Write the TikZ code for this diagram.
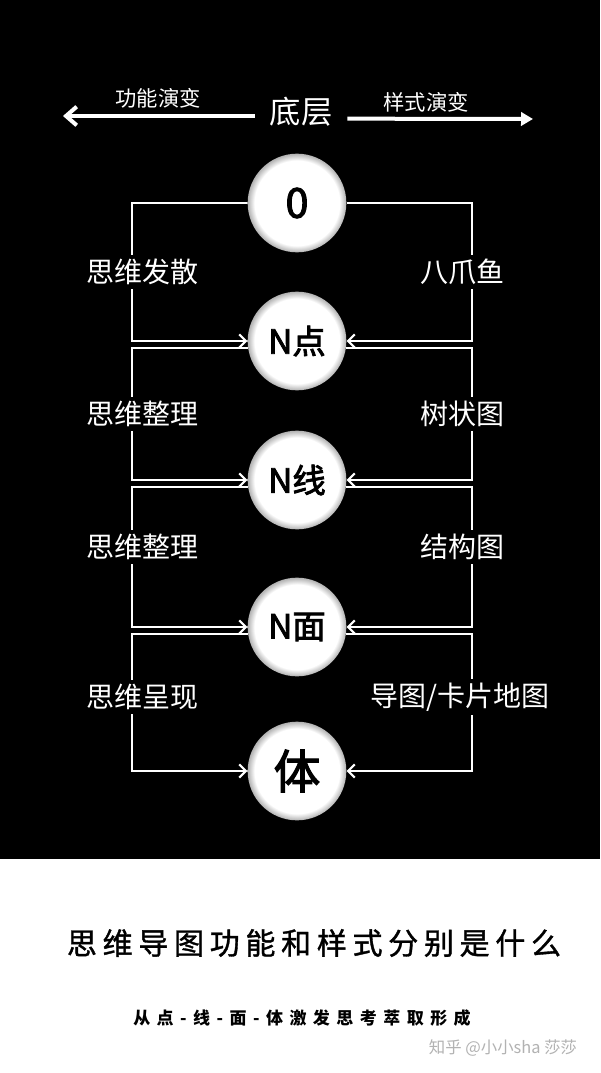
\documentclass[tikz,border=0pt]{standalone}
\usepackage{fontspec}
\setmainfont{Noto Sans CJK SC}
\newfontfamily\stagefont[FakeBold=2.5]{Noto Sans CJK SC}
\newfontfamily\titlefont[FakeBold=1.2]{Noto Sans CJK SC}
\usetikzlibrary{arrows.meta,calc}
\pgfdeclareradialshading{ballshade}{\pgfpoint{0bp}{0bp}}{color(0bp)=(white); color(21.5bp)=(white); color(25bp)=(black!30); color(50bp)=(black!30)}
\tikzstyle{stage}=[circle,minimum size=74pt,inner sep=0pt,shading=ballshade,text=black,font=\stagefont\fontsize{25}{25}\selectfont]
\tikzstyle{flow}=[draw=white,line width=1.6pt,-{Straight Barb[length=5pt,width=10pt]}]
\tikzstyle{lab}=[fill=black,text=white,inner sep=3pt,font=\fontsize{21}{21}\selectfont]
\tikzstyle{bigarrow}=[draw=white,line width=3pt]

\begin{document}
\begin{tikzpicture}[x=0.75pt,y=-0.75pt]

      \useasboundingbox (0,0) rectangle (600,1073);
      \fill[black] (0,0) rectangle (600,859);
      \fill[white] (0,859) rectangle (600,1073);

      \coordinate (L) at (132,0);
      \coordinate (R) at (472,0);

      \node (base) at (301,112) [text=white,inner xsep=11pt,font=\fontsize{23.5}{23.5}\selectfont] {底层};
      \node (fun) at (158,98) [text=white,font=\fontsize{16}{16}\selectfont] {功能演变};
      \node (sty) at (426,102) [text=white,font=\fontsize{16}{16}\selectfont] {样式演变};
      \coordinate (tipL) at (63,116);
      \coordinate (tipR) at (533,119);
      \draw[bigarrow,-{Straight Barb[length=8pt,width=14pt]}] ([yshift=-3pt]base.west) -- (tipL);
      \draw[bigarrow,-{Triangle[length=9pt,width=10pt]}] ([yshift=-5pt]base.east) -- (tipR);

      \node (n0) at (297,203) [stage,font=\stagefont\fontsize{31}{31}\selectfont] {0};
      \node (np) at (297,341) [stage] {N点};
      \node (nl) at (297,480) [stage] {N线};
      \node (nf) at (297,627) [stage] {N面};
      \node (nt) at (297,771) [stage,font=\stagefont\fontsize{35}{35}\selectfont] {体};

      % left side: function
      \draw[flow] (n0.west) -- (n0.west -| L) -- node[lab,xshift=8pt] {思维发散} (np.west -| L) -- (np.west);
      \draw[flow] (np.188) -- (np.188 -| L) -- node[lab,xshift=8pt] {思维整理} (nl.west -| L) -- (nl.west);
      \draw[flow] (nl.188) -- (nl.188 -| L) -- node[lab,xshift=8pt,pos=.43] {思维整理} (nf.west -| L) -- (nf.west);
      \draw[flow] (nf.188) -- (nf.188 -| L) -- node[lab,xshift=8pt,pos=.46] {思维呈现} (nt.west -| L) -- (nt.west);

      % right side: style
      \draw[flow] (n0.east) -- (n0.east -| R) -- node[lab,xshift=-7.5pt] {八爪鱼} (np.east -| R) -- (np.east);
      \draw[flow] (np.-8) -- (np.-8 -| R) -- node[lab,xshift=-7.5pt] {树状图} (nl.east -| R) -- (nl.east);
      \draw[flow] (nl.-8) -- (nl.-8 -| R) -- node[lab,xshift=-7.5pt,pos=.43] {结构图} (nf.east -| R) -- (nf.east);
      \draw[flow] (nf.-8) -- (nf.-8 -| R) -- node[lab,xshift=-9pt,pos=.46] {导图/卡片地图} (nt.east -| R) -- (nt.east);

      \node (title) at (314,943) [font=\titlefont\fontsize{22.5}{22.5}\selectfont\addfontfeatures{LetterSpace=19}] {思维导图功能和样式分别是什么};
      \node (sub) at (302,1018) [font=\bfseries\fontsize{12.75}{12.75}\selectfont\addfontfeatures{LetterSpace=38}] {从点-线-面-体激发思考萃取形成};
      \node (mark) at (503,1048) [text=black!30,font=\fontsize{12.3}{12.3}\selectfont] {知乎 @小小sha 莎莎};

\end{tikzpicture}
\end{document}
